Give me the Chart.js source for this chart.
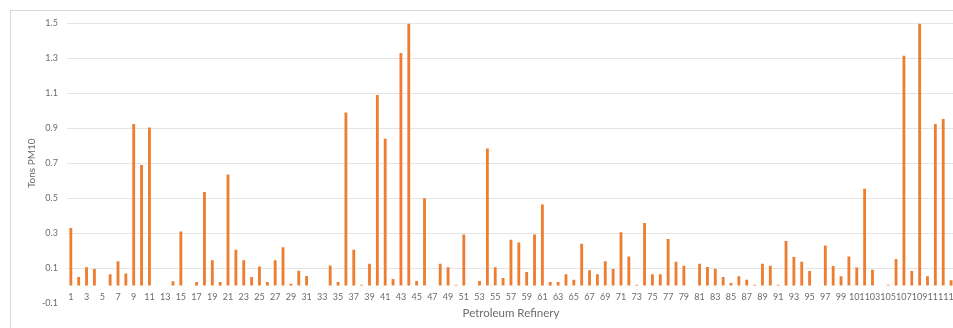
<!DOCTYPE html>
<html lang="en">
  <head>
    <meta charset="UTF-8" />
    <title>Tons PM10 by Petroleum Refinery</title>
    <script src="https://cdn.jsdelivr.net/npm/chart.js@4.4.1/dist/chart.umd.min.js"></script>
    <style>
      html,
      body {
        margin: 0;
        padding: 0;
        background: #fff;
        overflow: hidden;
      }

      #frame {
        position: absolute;
        left: 10px;
        top: 10px;
        width: 960px;
        height: 330px;
        border-left: 1px solid #d9d9d9;
        border-top: 1px solid #d9d9d9;
      }

      #box {
        position: relative;
        top: -2px;
        width: 950px;
        height: 319px;
      }
    </style>
  </head>
  <body>
    <div id="frame">
      <div id="box"><canvas id="chart"></canvas></div>
    </div>

    <script>
      // refinery numbers along the x axis
      const refineries = [
        1, 2, 3, 4, 5, 6, 7, 8, 9, 10, 11, 12, 13, 14, 15, 16, 17, 18, 19, 20,
        21, 22, 23, 24, 25, 26, 27, 28, 29, 30, 31, 32, 33, 34, 35, 36, 37, 38,
        39, 40, 41, 42, 43, 44, 45, 46, 47, 48, 49, 50, 51, 52, 53, 54, 55, 56,
        57, 58, 59, 60, 61, 62, 63, 64, 65, 66, 67, 68, 69, 70, 71, 72, 73, 74,
        75, 76, 77, 78, 79, 80, 81, 82, 83, 84, 85, 86, 87, 88, 89, 90, 91, 92,
        93, 94, 95, 96, 97, 98, 99, 100, 101, 102, 103, 104, 105, 106, 107,
        108, 109, 110, 111, 112, 113,
      ];

      // tons of PM10
      const pm10 = [
        0.33, 0.05, 0.105, 0.095, 0, 0.065, 0.14, 0.07, 0.925, 0.69,
        0.905, 0, 0, 0.025, 0.31, 0, 0.02, 0.535, 0.145, 0.02,
        0.635, 0.205, 0.145, 0.05, 0.11, 0.02, 0.145, 0.22, 0.01, 0.085,
        0.055, 0, 0, 0.115, 0.02, 0.99, 0.205, 0.005, 0.125, 1.09,
        0.84, 0.038, 1.33, 1.5, 0.027, 0.5, 0, 0.125, 0.105, 0.005,
        0.293, 0, 0.027, 0.785, 0.105, 0.044, 0.263, 0.247, 0.078, 0.293,
        0.464, 0.02, 0.02, 0.065, 0.034, 0.24, 0.088, 0.065, 0.14, 0.095,
        0.306, 0.167, 0.005, 0.358, 0.065, 0.065, 0.266, 0.137, 0.114, 0,
        0.125, 0.107, 0.097, 0.05, 0.015, 0.053, 0.034, 0.005, 0.125, 0.114,
        0.005, 0.255, 0.164, 0.137, 0.084, 0, 0.23, 0.112, 0.053, 0.167,
        0.103, 0.554, 0.091, 0, 0.005, 0.152, 1.315, 0.084, 1.5, 0.053,
        0.925, 0.953, 0.03,
      ];

      const yTicks = [-0.1, 0.1, 0.3, 0.5, 0.7, 0.9, 1.1, 1.3, 1.5];

      const textColor = "#6b6b6b";
      const font = "Lato, 'Liberation Sans', sans-serif";

      const ctx = document.getElementById("chart").getContext("2d");
      new Chart(ctx, {
        type: "bar",
        data: {
          labels: refineries,
          datasets: [
            {
              label: "Tons PM10",
              data: pm10,
              base: 0,
              backgroundColor: "#ed7d31",
              barPercentage: 0.36,
              categoryPercentage: 1,
            },
          ],
        },
        options: {
          responsive: true,
          maintainAspectRatio: false,
          animation: false,
          layout: {
            padding: { top: 0, right: 6, bottom: 5, left: 3 },
          },
          plugins: {
            legend: { display: false },
            tooltip: { enabled: false },
          },
          scales: {
            x: {
              grid: { display: false, drawTicks: false },
              border: { display: false },
              ticks: {
                // labels sit just above the -0.1 edge, like the original
                mirror: true,
                autoSkip: false,
                maxRotation: 0,
                minRotation: 0,
                padding: 0.6,
                color: textColor,
                font: { family: font, size: 9 },
                callback: (v, i) => (i % 2 === 0 ? refineries[i] : ""),
              },
              title: {
                display: true,
                text: "Petroleum Refinery",
                color: textColor,
                font: { family: font, size: 11.5 },
                padding: { top: 1.9, bottom: 3 },
              },
            },
            y: {
              min: -0.1,
              max: 1.5,
              afterBuildTicks: (axis) => {
                axis.ticks = yTicks.map((v) => ({ value: v }));
              },
              grid: {
                drawTicks: false,
                color: (c) =>
                  c.tick && c.tick.value < 0 ? "rgba(0,0,0,0)" : "#e4e4e4",
              },
              border: { display: false },
              ticks: {
                padding: 9,
                color: textColor,
                font: { family: font, size: 9 },
                callback: (v) => v.toFixed(1),
              },
              title: {
                display: true,
                text: "Tons PM10",
                color: textColor,
                font: { family: font, size: 10 },
                padding: { top: 12, bottom: -5 },
              },
            },
          },
        },
      });
    </script>
  </body>
</html>
